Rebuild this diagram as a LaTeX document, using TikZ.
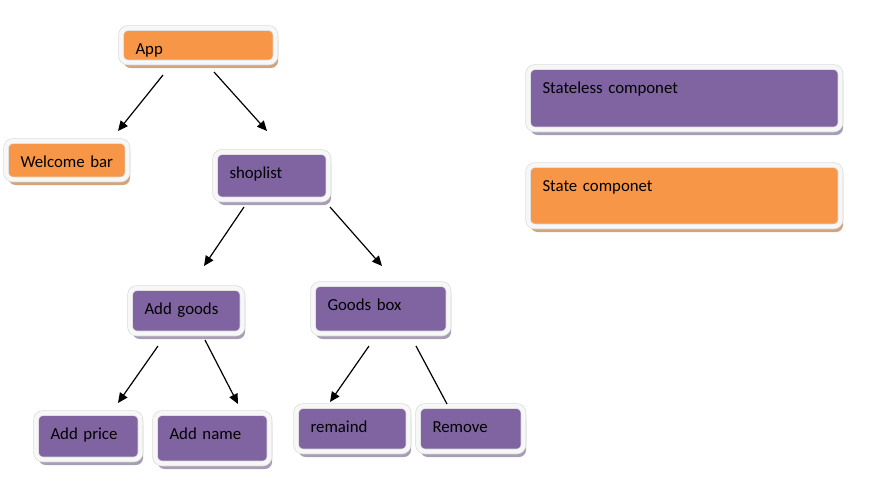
\documentclass[tikz,border=0pt]{standalone}
\usepackage{fontspec}
\setmainfont{Carlito}
\usetikzlibrary{arrows.meta,shadows}
\definecolor{orng}{HTML}{F79646}
\definecolor{purp}{HTML}{8064A2}
\definecolor{orngsh}{HTML}{D2A47E}
\definecolor{purpsh}{HTML}{A79DB6}
\definecolor{rim}{HTML}{D6D6D6}
\definecolor{rimin}{HTML}{F7F7F7}
\tikzset{
  cbase/.style={rectangle, rounded corners=7pt, draw=rim, double=rimin, double distance=4.4pt, line width=0.6pt,
    font=\fontsize{16.8}{20}\selectfont, text=black, inner ysep=0pt, inner xsep=14.4pt, align=left},
  obox/.style={cbase, fill=orng, drop shadow={shadow xshift=2.5pt, shadow yshift=-5.5pt, fill=orngsh, opacity=1}},
  pbox/.style={cbase, fill=purp, drop shadow={shadow xshift=2.5pt, shadow yshift=-5.5pt, fill=purpsh, opacity=1}},
  conn/.style={line width=1.2pt, -{Triangle[length=10pt,width=9pt]}},
  plain/.style={line width=1.2pt}
}
\newcommand\cbox[7]{%
  \pgfmathsetmacro\bw{#5-#3-5.6}%
  \pgfmathsetmacro\bh{#6-#4-5.6}%
  \pgfmathsetmacro\tw{\bw-28.8}%
  \pgfmathsetmacro\td{\bh-26.4}%
  \node[#1, anchor=north west, minimum width=\bw pt, minimum height=\bh pt,
        text width=\tw pt, text height=26.4pt, text depth=\td pt] (#2) at (#3+2.8,#4+2.8) {#7};}
\begin{document}
\begin{tikzpicture}[x=1pt,y=-1pt]
\useasboundingbox (0,0) rectangle (877,488);
\cbox{obox}{app}{118}{25}{278}{65}{App}
\cbox{obox}{welcome}{3}{138}{130}{182}{Welcome bar}
\cbox{pbox}{shoplist}{212}{149}{331}{202}{shoplist}
\cbox{pbox}{addgoods}{127}{285}{245}{336}{Add goods}
\cbox{pbox}{goodsbox}{310}{281}{451}{336}{Goods box}
\cbox{pbox}{addprice}{33}{410}{143}{462}{Add price}
\cbox{pbox}{addname}{152}{410}{272}{466}{Add name}
\cbox{pbox}{remaind}{293}{403}{411}{454}{remaind}
\cbox{pbox}{remove}{415}{403}{526}{454}{Remove}
\cbox{pbox}{stateless}{525}{64}{843}{132}{Stateless componet}
\cbox{obox}{state}{525}{162}{843}{229}{State componet}
% connector end points
\coordinate (a1) at (163,75);  \coordinate (a2) at (118,131);
\coordinate (b1) at (214,72);  \coordinate (b2) at (267,131);
\coordinate (c1) at (244,207); \coordinate (c2) at (204,266);
\coordinate (d1) at (330,207); \coordinate (d2) at (382,266);
\coordinate (e1) at (158,346); \coordinate (e2) at (118,403);
\coordinate (f1) at (205,340); \coordinate (f2) at (238,404);
\coordinate (g1) at (369,346); \coordinate (g2) at (330,402);
\coordinate (h1) at (416,346); \coordinate (h2) at (447,404);
\draw[conn] (a1) -- (a2);
\draw[conn] (b1) -- (b2);
\draw[conn] (c1) -- (c2);
\draw[conn] (d1) -- (d2);
\draw[conn] (e1) -- (e2);
\draw[conn] (f1) -- (f2);
\draw[conn] (g1) -- (g2);
\draw[plain] (h1) -- (h2);
\end{tikzpicture}
\end{document}
